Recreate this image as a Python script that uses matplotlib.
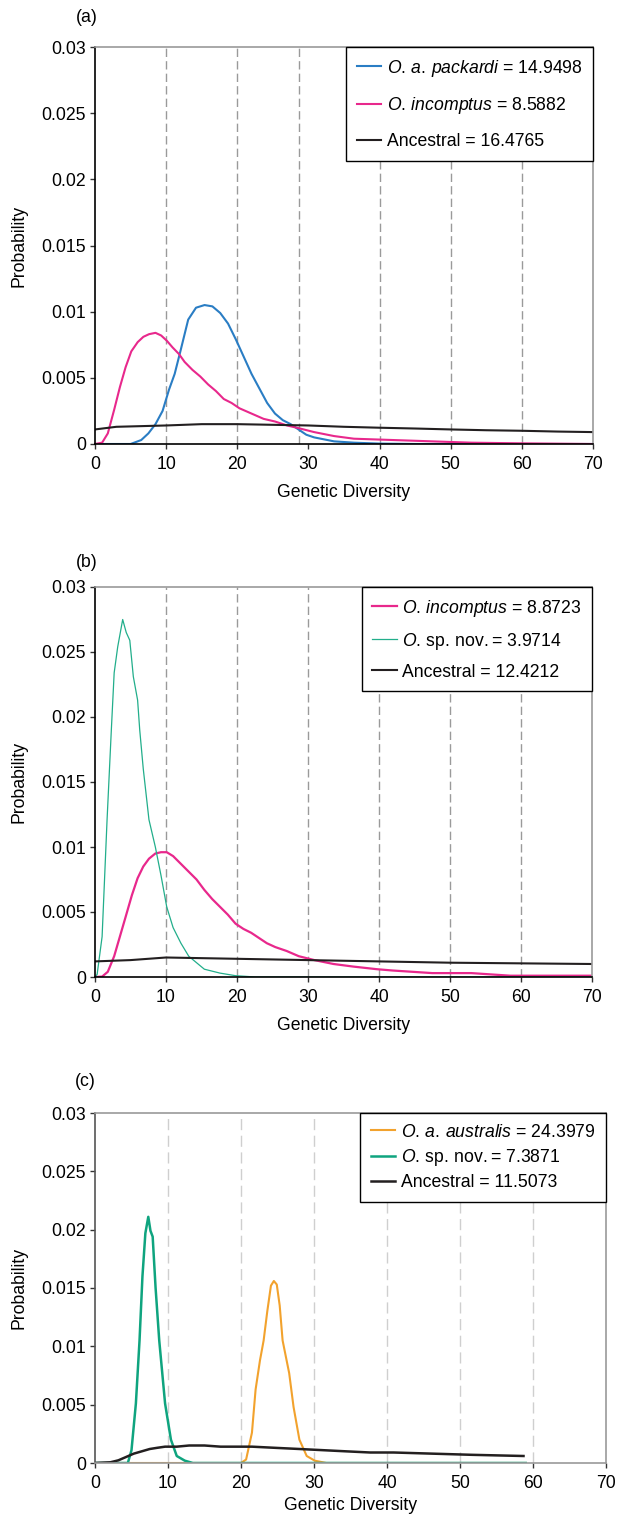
import matplotlib
matplotlib.use("Agg")
import matplotlib.pyplot as plt

plt.rcParams["font.family"] = ["Liberation Sans", "DejaVu Sans"]
plt.rcParams["mathtext.fontset"] = "custom"
plt.rcParams["mathtext.rm"] = "Liberation Sans"
plt.rcParams["mathtext.it"] = "Liberation Sans:italic"

# =========================
# Panel (a) data
# =========================
a_packardi_x = [0, 5, 5.5, 6.5, 7.5, 8.5, 9.5, 10.4, 11.2, 12.0, 13.1, 14.2, 15.4, 16.5,
                17.6, 18.7, 19.8, 20.9, 22.0, 23.1, 24.2, 25.3, 26.4, 27.5, 28.6, 29.7,
                30.8, 33.6, 36.4, 40, 45, 70]
a_packardi_y = [0, 0, 0.0001, 0.0003, 0.0008, 0.0015, 0.0025, 0.0041, 0.0053, 0.0070,
                0.0094, 0.0103, 0.0105, 0.0104, 0.0099, 0.0091, 0.0079, 0.0066, 0.0053,
                0.0042, 0.0031, 0.0023, 0.0018, 0.0015, 0.0011, 0.0007, 0.0005, 0.0002,
                0.0001, 0.00003, 0, 0]

a_incomptus_x = [0, 1.0, 1.8, 2.7, 3.5, 4.3, 5.1, 6.0, 6.8, 7.6, 8.5, 9.3, 10.1, 10.9,
                 11.8, 12.6, 13.7, 14.8, 15.9, 17.0, 18.1, 19.2, 20.3, 22.0, 23.7, 25.3,
                 27.0, 28.6, 30.8, 33.6, 36.4, 41.9, 47.4, 52.9, 60, 70]
a_incomptus_y = [0, 0.0001, 0.0008, 0.0026, 0.0043, 0.0058, 0.0070, 0.0077, 0.0081,
                 0.0083, 0.0084, 0.0082, 0.0078, 0.0073, 0.0068, 0.0062, 0.0056, 0.0051,
                 0.0045, 0.0040, 0.0034, 0.0031, 0.0027, 0.0023, 0.0019, 0.0017, 0.0014,
                 0.0012, 0.0009, 0.0006, 0.0004, 0.0003, 0.0002, 0.0001, 0.00005, 0]

a_ancestral_x = [0, 3, 10, 15, 20, 25, 30, 35, 40, 45, 50, 55, 60, 65, 70]
a_ancestral_y = [0.0011, 0.0013, 0.0014, 0.0015, 0.0015, 0.00145, 0.0014, 0.0013,
                 0.00123, 0.00117, 0.0011, 0.00104, 0.001, 0.00094, 0.0009]

a_grid = [10, 20, 28.7, 40, 50, 60]
a_labels = [r"$\mathit{O.\,a.\,packardi}$ = 14.9498",
            r"$\mathit{O.\,incomptus}$ = 8.5882",
            "Ancestral = 16.4765"]

# =========================
# Panel (b) data
# =========================
b_incomptus_x = [0, 1.0, 1.8, 2.7, 3.5, 4.3, 5.2, 6.0, 6.8, 7.6, 8.5, 9.3, 10.1, 11.0,
                 12.1, 13.2, 14.3, 15.4, 16.5, 17.6, 18.7, 19.8, 20.9, 22.0, 23.1, 24.2,
                 25.4, 27.0, 28.7, 30.9, 33.6, 36.4, 39.7, 41.9, 47.5, 53.0, 58.5, 64.1, 70]
b_incomptus_y = [0, 0.00003, 0.0004, 0.0016, 0.0031, 0.0046, 0.0063, 0.0076, 0.0085,
                 0.0091, 0.0095, 0.0096, 0.0096, 0.0093, 0.0087, 0.0081, 0.0075, 0.0067,
                 0.0060, 0.0054, 0.0048, 0.0041, 0.0037, 0.0034, 0.0030, 0.0026, 0.0023,
                 0.0020, 0.0016, 0.0013, 0.0010, 0.0008, 0.0006, 0.0005, 0.0003, 0.0003,
                 0.0001, 0.0001, 0.0001]

b_spnov_x = [0, 0.3, 1.0, 1.7, 2.3, 2.7, 3.2, 3.9, 4.4, 4.9, 5.4, 6.0, 6.3, 6.8, 7.6,
             8.5, 9.3, 10.1, 11.0, 12.1, 13.2, 14.3, 15.4, 17.6, 19.8, 22.6, 70]
b_spnov_y = [0, 0.0002, 0.0031, 0.0121, 0.0190, 0.0234, 0.0254, 0.0275, 0.0265, 0.0259,
             0.0231, 0.0213, 0.0190, 0.0160, 0.0121, 0.0100, 0.0078, 0.0054, 0.0038,
             0.0026, 0.0016, 0.0011, 0.0006, 0.0003, 0.0001, 0, 0]

b_ancestral_x = [0, 5, 10, 20, 30, 40, 50, 60, 70]
b_ancestral_y = [0.0012, 0.0013, 0.0015, 0.0014, 0.0013, 0.0012, 0.0011, 0.00105, 0.001]

b_grid = [10, 20, 30, 40, 50, 60]
b_labels = [r"$\mathit{O.\,incomptus}$ = 8.8723",
            r"$\mathit{O.}\,\mathrm{sp.\,nov.}$= 3.9714",
            "Ancestral = 12.4212"]

# =========================
# Panel (c) data
# =========================
c_australis_x = [0, 20.0, 20.7, 21.5, 22.0, 22.6, 23.1, 23.6, 24.1, 24.5, 24.9, 25.3,
                 25.7, 26.6, 27.2, 28.0, 29.0, 30.1, 31.7, 59]
c_australis_y = [0, 0, 0.0003, 0.0026, 0.0063, 0.0088, 0.0105, 0.0130, 0.0152, 0.0156,
                 0.0153, 0.0135, 0.0105, 0.0077, 0.0048, 0.0020, 0.0006, 0.0002, 0, 0]

c_spnov_x = [0, 4.5, 5.0, 5.6, 6.1, 6.5, 6.9, 7.3, 7.6, 7.9, 8.3, 8.8, 9.6, 10.4, 11.2,
             12.3, 13.4, 59]
c_spnov_y = [0, 0, 0.0011, 0.0051, 0.0105, 0.0160, 0.0197, 0.0211, 0.0199, 0.0194,
             0.0150, 0.0105, 0.0051, 0.0020, 0.0006, 0.0002, 0, 0]

c_ancestral_x = [0, 2.1, 3.2, 4.2, 5.3, 6.4, 7.5, 8.5, 9.6, 11.2, 12.9, 15.0, 17.2, 19.3,
                 21.5, 24.7, 28.0, 31.2, 34.4, 37.7, 40.9, 46.3, 51.7, 58.7]
c_ancestral_y = [0, 0.00006, 0.00023, 0.0005, 0.0008, 0.0010, 0.0012, 0.0013, 0.0014,
                 0.0014, 0.0015, 0.0015, 0.0014, 0.0014, 0.0014, 0.0013, 0.0012, 0.0011,
                 0.0010, 0.0009, 0.0009, 0.0008, 0.0007, 0.0006]

c_grid = [10, 20, 30, 40, 50, 60]
c_labels = [r"$\mathit{O.\,a.\,australis}$ = 24.3979",
            r"$\mathit{O.}\,\mathrm{sp.\,nov.}$= 7.3871",
            "Ancestral = 11.5073"]

x_ticks = [0, 10, 20, 30, 40, 50, 60, 70]
y_ticks = [0, 0.005, 0.01, 0.015, 0.02, 0.025, 0.03]
y_ticklabels = ["0", "0.005", "0.01", "0.015", "0.02", "0.025", "0.03"]

BLUE = "#2a7dc4"
PINK = "#e8288c"
BLACK = "#231f20"
GREEN_B = "#22ae8b"
GREEN_C = "#0fa47f"
ORANGE = "#f2a22d"

FS = 12.7
W, H = 617, 1517

fig = plt.figure(figsize=(W / 100, H / 100), dpi=100)


def px_axes(left, top, right, bottom):
    return fig.add_axes([left / W, 1 - bottom / H, (right - left) / W, (bottom - top) / H])


def style_axes(ax, grid, grid_color, dash, left_color, bottom_color, frame_color, xpad):
    ax.set_xlim(0, 70)
    ax.set_ylim(0, 0.03)
    ax.set_xticks(x_ticks)
    ax.set_xticklabels([str(t) for t in x_ticks])
    ax.set_yticks(y_ticks)
    ax.set_yticklabels(y_ticklabels)
    ax.tick_params(axis="both", direction="out", length=3.5, width=1,
                   labelsize=FS, pad=3, color="#333333")
    ax.tick_params(axis="x", pad=5)
    for g in grid:
        ax.axvline(g, color=grid_color, lw=1.0, linestyle=(0, dash), zorder=0.5)
    ax.spines["left"].set_color(left_color)
    ax.spines["bottom"].set_color(bottom_color)
    ax.spines["top"].set_color(frame_color)
    ax.spines["right"].set_color(frame_color)
    for s in ax.spines.values():
        s.set_linewidth(1.2)
    ax.set_xlabel("Genetic Diversity", fontsize=FS, labelpad=xpad)
    ax.set_ylabel("Probability", fontsize=FS, labelpad=10)


def add_legend(ax, labelspacing):
    leg = ax.legend(loc="upper right", bbox_to_anchor=(1.0, 1.0), borderaxespad=0,
                    fontsize=FS, frameon=True, fancybox=False, framealpha=1,
                    edgecolor="black", handlelength=1.4, handletextpad=0.3,
                    borderpad=0.6, labelspacing=labelspacing)
    leg.get_frame().set_linewidth(1.0)
    leg.set_zorder(5)


# (a)
ax_a = px_axes(95, 47, 593, 444)
ax_a.plot(a_packardi_x, a_packardi_y, color=BLUE, lw=1.5, label=a_labels[0])
ax_a.plot(a_incomptus_x, a_incomptus_y, color=PINK, lw=1.5, label=a_labels[1])
ax_a.plot(a_ancestral_x, a_ancestral_y, color=BLACK, lw=1.5, label=a_labels[2])
style_axes(ax_a, a_grid, "#9a9a9a", (6, 3), "black", "black", "#9a9a9a", 8)
add_legend(ax_a, 0.95)
fig.text(87 / W, 1 - 18 / H, "(a)", fontsize=FS, ha="center", va="center")

# (b)
ax_b = px_axes(95, 587, 592, 977)
ax_b.plot(b_incomptus_x, b_incomptus_y, color=PINK, lw=1.6, label=b_labels[0])
ax_b.plot(b_spnov_x, b_spnov_y, color=GREEN_B, lw=0.9, label=b_labels[1])
ax_b.plot(b_ancestral_x, b_ancestral_y, color=BLACK, lw=1.5, label=b_labels[2])
style_axes(ax_b, b_grid, "#9a9a9a", (6, 3), "black", "black", "#9a9a9a", 8)
add_legend(ax_b, 0.68)
fig.text(87 / W, 1 - 563 / H, "(b)", fontsize=FS, ha="center", va="center")

# (c)
ax_c = px_axes(95, 1113, 606, 1463)
ax_c.plot(c_australis_x, c_australis_y, color=ORANGE, lw=1.5, label=c_labels[0])
ax_c.plot(c_spnov_x, c_spnov_y, color=GREEN_C, lw=1.8, label=c_labels[1])
ax_c.plot(c_ancestral_x, c_ancestral_y, color=BLACK, lw=1.8, label=c_labels[2])
style_axes(ax_c, c_grid, "#cfcfcf", (8, 4), "#555555", "#9a9a9a", "#9a9a9a", 4)
add_legend(ax_c, 0.36)
fig.text(85 / W, 1 - 1082 / H, "(c)", fontsize=FS, ha="center", va="center")

fig.savefig("out.png", dpi=100)
